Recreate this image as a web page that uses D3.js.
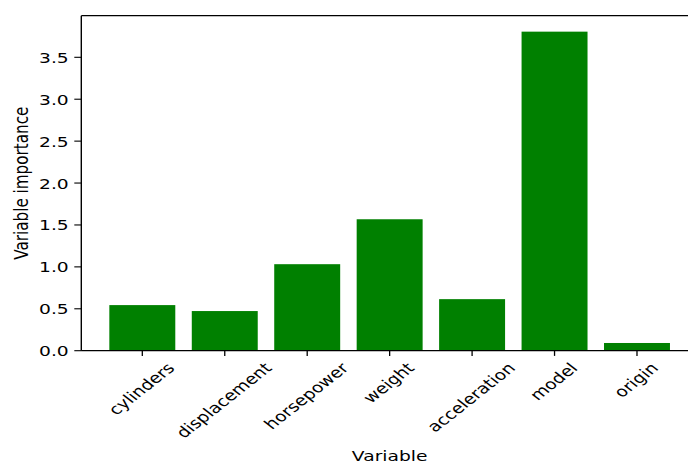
<!DOCTYPE html>
<html>
<head>
<meta charset="utf-8">
<script src="https://cdn.jsdelivr.net/npm/d3@7"></script>
<style>
  html, body { margin: 0; padding: 0; background: #fff; }
  svg { display: block; }
  text { font-family: "DejaVu Sans", sans-serif; fill: #000; }
</style>
</head>
<body>
<div id="chart"></div>
<script>
// Variable importance per predictor
const categories = ["cylinders", "displacement", "horsepower", "weight", "acceleration", "model", "origin"];
const importance = [0.544, 0.473, 1.032, 1.568, 0.615, 3.806, 0.092];
const yTicks = [0.0, 0.5, 1.0, 1.5, 2.0, 2.5, 3.0, 3.5];
const xTitle = "Variable";
const yTitle = "Variable importance";

const W = 688, H = 466;
const plot = { left: 81.3, right: 698, top: 15.7, bottom: 350.7 };
const stretch = 1.27;        // horizontal text stretch
const fontSize = 14.7;
const barColor = "#008000";

const svg = d3.select("#chart").append("svg")
  .attr("width", W).attr("height", H);

const x = d3.scaleBand()
  .domain(categories)
  .range([plot.left, plot.right])
  .paddingInner(0.2)
  .paddingOuter(0.34);

const y = d3.scaleLinear()
  .domain([0, d3.max(importance) * 1.05])
  .range([plot.bottom, plot.top]);

// bars
svg.append("g").selectAll("rect")
  .data(categories.map((c, i) => ({ c, v: importance[i] })))
  .join("rect")
  .attr("x", d => x(d.c))
  .attr("width", x.bandwidth())
  .attr("y", d => y(d.v))
  .attr("height", d => y(0) - y(d.v))
  .attr("fill", barColor);

// spines
const spines = svg.append("g").attr("stroke", "#000").attr("fill", "none");
spines.append("line").attr("x1", plot.left).attr("x2", plot.left)
  .attr("y1", plot.top).attr("y2", plot.bottom).attr("stroke-width", 1.4);
spines.append("line").attr("x1", plot.right).attr("x2", plot.right)
  .attr("y1", plot.top).attr("y2", plot.bottom).attr("stroke-width", 1.4);
spines.append("line").attr("x1", plot.left).attr("x2", plot.right)
  .attr("y1", plot.top).attr("y2", plot.top).attr("stroke-width", 1.2);
spines.append("line").attr("x1", plot.left).attr("x2", plot.right)
  .attr("y1", plot.bottom).attr("y2", plot.bottom).attr("stroke-width", 1.2);

// y axis ticks + labels
const yTickLen = 7;
const yg = svg.append("g");
yTicks.forEach(t => {
  const py = y(t);
  yg.append("line")
    .attr("x1", plot.left - yTickLen).attr("x2", plot.left)
    .attr("y1", py).attr("y2", py)
    .attr("stroke", "#000").attr("stroke-width", 1.1);
  yg.append("g")
    .attr("transform", `translate(${68.7},${py + 5.5}) scale(${stretch},1)`)
    .append("text")
    .attr("text-anchor", "end")
    .attr("font-size", fontSize)
    .text(t.toFixed(1));
});

// x axis ticks + rotated labels (rotated bbox centred under each tick)
const xTickLen = 5.2, xPad = 5.2;
const xg = svg.append("g");
const em = fontSize;
const hBox = 0.968 * em, dBox = 0.208 * em, c45 = Math.SQRT1_2;
categories.forEach(c => {
  const px = x(c) + x.bandwidth() / 2;
  xg.append("line")
    .attr("x1", px).attr("x2", px)
    .attr("y1", plot.bottom).attr("y2", plot.bottom + xTickLen)
    .attr("stroke", "#000").attr("stroke-width", 1.3);
  const g = xg.append("g")
    .attr("transform", `translate(${px},${plot.bottom + xTickLen + xPad}) scale(${stretch},1)`);
  const txt = g.append("text")
    .attr("font-size", fontSize)
    .text(c);
  const w = txt.node().getComputedTextLength();
  const bx = -c45 * (w - hBox + 2 * dBox) / 2;
  const by = c45 * (w + hBox - dBox);
  txt.attr("transform", `translate(${bx},${by}) rotate(-45)`);
});

// axis titles
svg.append("g")
  .attr("transform", `translate(${(plot.left + plot.right) / 2},${460.5}) scale(${stretch},1)`)
  .append("text")
  .attr("text-anchor", "middle")
  .attr("font-size", fontSize)
  .text(xTitle);

svg.append("g")
  .attr("transform", `translate(${28.3},${(plot.top + plot.bottom) / 2}) scale(${stretch},1)`)
  .append("text")
  .attr("text-anchor", "middle")
  .attr("transform", "rotate(-90)")
  .attr("font-size", 15.2)
  .text(yTitle);
</script>
</body>
</html>
